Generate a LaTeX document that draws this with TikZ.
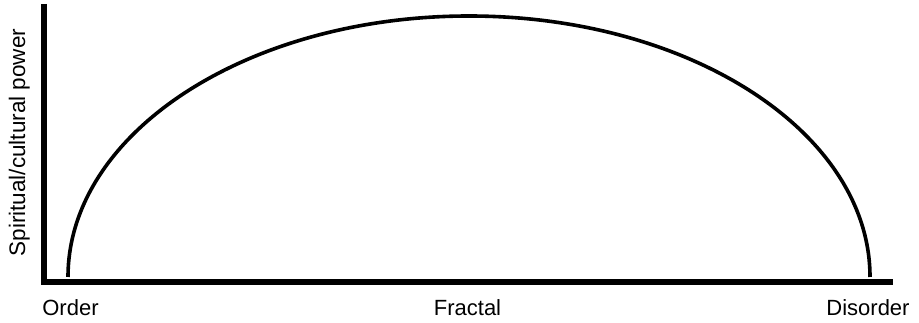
\documentclass[tikz,border=0pt]{standalone}
\usepackage{fontspec}
\setmainfont{Liberation Sans}
\usetikzlibrary{positioning}

\begin{document}
\begin{tikzpicture}[
  x=1pt, y=1pt,
  font=\fontsize{22}{26}\selectfont,
  axis/.style={line width=5.5pt, line join=miter},
  curve/.style={line width=3.6pt},
  lab/.style={anchor=base, inner sep=0pt}
]
\useasboundingbox (0,0) rectangle (919,323);
% axes
\coordinate (top) at (44,319);
\coordinate (origin) at (44,41);
\coordinate (right) at (893,41);
\draw[axis] (top) -- (origin) -- (right);
% power curve
\coordinate (start) at (68,46);
\draw[curve] (start) arc[start angle=180, end angle=0, x radius=401, y radius=261];
% labels
\node[lab] (order) at (70.5,7) {Order};
\node[lab] (fractal) at (467.5,7) {Fractal};
\node[lab] (disorder) at (868,7) {Disorder};
\node[lab, rotate=90, font=\fontsize{22.5}{27}\selectfont] (power) at (25,180.5) {Spiritual/cultural power};
\end{tikzpicture}
\end{document}
